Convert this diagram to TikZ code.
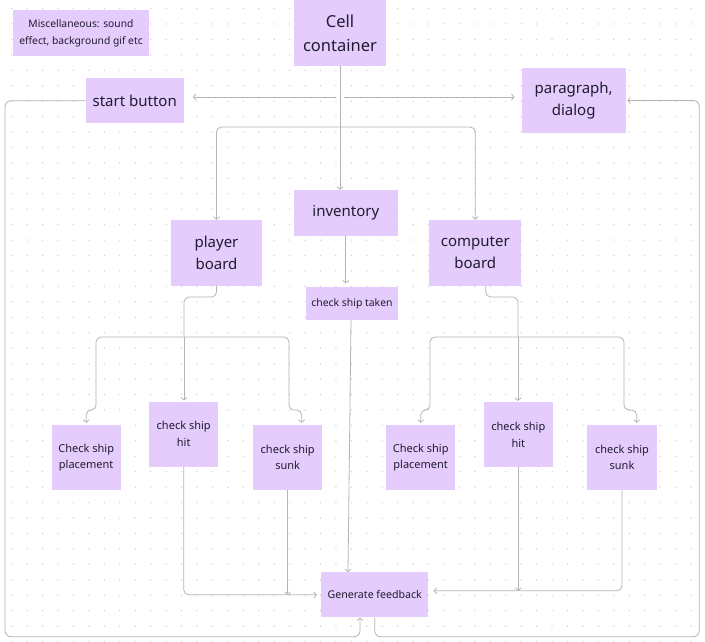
\documentclass[tikz,border=0pt]{standalone}
\usepackage{fontspec}
\setmainfont{Noto Sans}
\usetikzlibrary{arrows.meta}
\definecolor{boxC}{HTML}{E4CCFD}
\definecolor{txtC}{HTML}{221B30}
\definecolor{lineC}{HTML}{B4B4B4}
\definecolor{dotC}{HTML}{CFCFCF}
\tikzset{
  box/.style={fill=boxC, draw=none, align=center, inner sep=0pt, text=txtC},
  big/.style={font=\fontsize{15}{22}\selectfont},
  small/.style={font=\fontsize{11}{16.7}\selectfont},
  wire/.style={draw=lineC, line width=0.8pt, rounded corners=5pt},
  arr/.style={wire, -{Straight Barb[length=2.5pt,width=6pt]}},
}
\begin{document}
\begin{tikzpicture}[x=1pt,y=-1pt]
\fill[white] (0,0) rectangle (705,641);
\useasboundingbox (0,0) rectangle (705,641);
\foreach \i in {0,...,44}{\foreach \j in {0,...,41}{\fill[dotC] (11.7+\i*15.44,8.5+\j*15.44) circle (0.75pt);}}

% nodes
\node[box, minimum width=135.4pt, minimum height=46pt, font=\fontsize{10.3}{17.3}\selectfont] (misc) at (81,33) {Miscellaneous: sound\\effect, background gif etc};
\node[box, minimum width=92pt, minimum height=65.5pt, font=\fontsize{16.5}{24}\selectfont] (cell) at (340,33) {Cell\\container};
\node[box, big, minimum width=98pt, minimum height=45pt] (start) at (134.7,100.8) {start button};
\node[box, big, minimum width=104pt, minimum height=64.4pt] (para) at (573.7,100.5) {paragraph,\\dialog};
\node[box, big, minimum width=103.7pt, minimum height=45.7pt] (inv) at (345.8,212.8) {inventory};
\node[box, big, minimum width=91.6pt, minimum height=65.7pt] (pb) at (216.5,252.8) {player\\board};
\node[box, big, minimum width=92pt, minimum height=65.7pt] (cb) at (475.3,252.8) {computer\\board};
\node[box, minimum width=92.6pt, minimum height=33.3pt, font=\fontsize{10.4}{12}\selectfont] (taken) at (352,303.3) {check ship taken};
\node[box, small, minimum width=69pt, minimum height=65pt] (lpl) at (86.2,457.5) {Check ship\\placement};
\node[box, small, minimum width=69.3pt, minimum height=65pt] (lhit) at (183.7,434.2) {check ship\\hit};
\node[box, small, minimum width=68.7pt, minimum height=65pt] (lsunk) at (287.7,457.5) {check ship\\sunk};
\node[box, small, minimum width=69.3pt, minimum height=65pt] (rpl) at (420.7,457.5) {Check ship\\placement};
\node[box, small, minimum width=68.7pt, minimum height=65pt] (rhit) at (518.3,434.6) {check ship\\hit};
\node[box, small, minimum width=69.4pt, minimum height=65pt] (rsunk) at (622,457.5) {check ship\\sunk};
\node[box, minimum width=107.3pt, minimum height=45pt, font=\fontsize{10.6}{12}\selectfont] (gen) at (374.7,594.8) {Generate feedback};

% junction coordinates
\coordinate (jl) at (336,97);
\coordinate (jr) at (344,97);
\coordinate (jb) at (340,127);
\coordinate (pj) at (184,337);
\coordinate (cj) at (518,337);
\coordinate (gr) at ([yshift=4pt]gen.east);

% connectors from cell container
\draw[arr] (cell.south) -- (cell.south |- inv.north);
\draw[arr, shorten >=9pt] (jl) -- (start.east |- jl);
\draw[arr, shorten >=7pt] (jr) -- (para.west |- jr);
\draw[arr] (jb) -| (pb.north);
\draw[arr] (jb) -| (cb.north);
\draw[arr, shorten >=3pt] (inv.south) -- (inv.south |- taken.north);
\draw[arr] ([xshift=-1pt]taken.south) -- ([xshift=-26.7pt]gen.north);

% player board branches
\draw[wire] (pb.south) |- (184,297) -- (pj);
\draw[arr, shorten >=1pt] (pj) -- (pj |- lhit.north);
\draw[arr, shorten >=2pt] (pj) -| (96,410) -| (lpl.north);
\draw[arr, shorten >=2pt] (pj) -| (289,410) -| ([xshift=14pt]lsunk.north);

% computer board branches
\draw[wire] ([xshift=10.4pt]cb.south) |- (518,297) -- (cj);
\draw[arr, shorten >=1pt] (cj) -- (cj |- rhit.north);
\draw[arr, shorten >=2pt] (cj) -| (430,410) -| (rpl.north);
\draw[arr, shorten >=2pt] (cj) -| (624,410) -| ([xshift=14.7pt]rsunk.north);

% into generate feedback
\draw[arr, shorten >=4pt] (lhit.south) |- (gen.west);
\draw[arr] (lsunk.south) -- (lsunk.south |- gen.west);
\draw[arr, shorten >=5pt] (rsunk.south) |- (gr);
\draw[arr] (rhit.south) -- (rhit.south |- gr);

% loops
\draw[arr, rounded corners=6pt] (start.west) -| (5,636.7) -| ([xshift=-14.7pt]gen.south);
\draw[arr, rounded corners=6pt, shorten >=1.5pt] (gen.south) |- (699.3,636.7) |- (para.east);
\end{tikzpicture}
\end{document}
